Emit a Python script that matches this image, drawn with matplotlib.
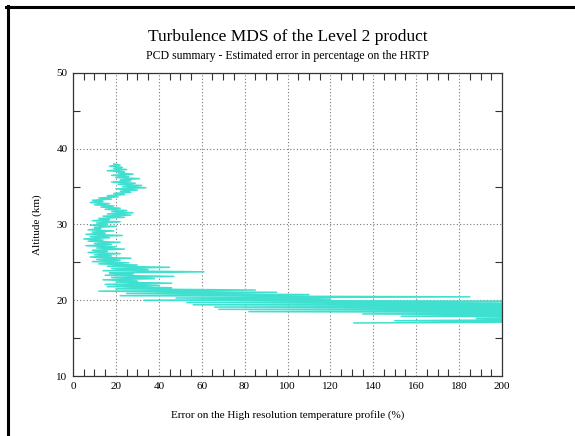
import numpy as np
import matplotlib
matplotlib.use("Agg")
import matplotlib.pyplot as plt
from matplotlib.lines import Line2D
from matplotlib.ticker import MultipleLocator

plt.rcParams['font.family'] = ['Liberation Serif', 'DejaVu Serif']

# altitude (km) and estimated error (%) of the HRTP, bottom to top
altitude = [
    17.00, 17.15, 17.30, 17.45, 17.60, 17.75, 17.90, 18.05, 18.20, 18.35,
    18.50, 18.65, 18.80, 18.95, 19.10, 19.25, 19.40, 19.55, 19.70, 19.85,
    20.00, 20.15, 20.30, 20.45, 20.60, 20.75, 20.90, 21.05, 21.20, 21.35,
    21.50, 21.65, 21.80, 21.95, 22.10, 22.25, 22.40, 22.55, 22.70, 22.85,
    23.00, 23.15, 23.30, 23.45, 23.60, 23.75, 23.90, 24.05, 24.20, 24.35,
    24.50, 24.65, 24.80, 24.95, 25.10, 25.25, 25.40, 25.55, 25.70, 25.85,
    26.00, 26.15, 26.30, 26.45, 26.60, 26.75, 26.90, 27.05, 27.20, 27.35,
    27.50, 27.65, 27.80, 27.95, 28.10, 28.25, 28.40, 28.55, 28.70, 28.85,
    29.00, 29.15, 29.30, 29.45, 29.60, 29.75, 29.90, 30.05, 30.20, 30.35,
    30.50, 30.65, 30.80, 30.95, 31.10, 31.25, 31.40, 31.55, 31.70, 31.85,
    32.00, 32.15, 32.30, 32.45, 32.60, 32.75, 32.90, 33.05, 33.20, 33.35,
    33.50, 33.65, 33.80, 33.95, 34.10, 34.25, 34.40, 34.55, 34.70, 34.85,
    35.00, 35.15, 35.30, 35.45, 35.60, 35.75, 35.90, 36.05, 36.20, 36.35,
    36.50, 36.65, 36.80, 36.95, 37.10, 37.25, 37.40, 37.55, 37.70, 37.85,
    38.00,
]
error_pct = [
    131, 240, 150, 230, 188, 260, 153, 230, 135, 280,
    82, 300, 68, 290, 66, 270, 56, 250, 53, 230,
    33, 120, 48, 185, 22, 110, 25, 95, 12, 85,
    20, 46, 16, 40, 15, 46, 20, 30, 14, 38,
    18, 47, 15, 28, 17, 61, 14, 35, 18, 45,
    16, 30, 12, 26, 9, 22, 11, 27, 8, 18,
    10, 22, 7, 16, 9, 24, 11, 20, 6, 18,
    10, 22, 7, 14, 5, 17, 8, 23, 6, 15,
    9, 19, 7, 13, 10, 20, 8, 16, 11, 22,
    9, 17, 12, 24, 14, 27, 16, 28, 18, 25,
    15, 22, 13, 19, 10, 17, 8, 14, 9, 18,
    12, 21, 16, 24, 19, 27, 22, 30, 20, 34,
    23, 32, 21, 29, 18, 27, 22, 31, 20, 26,
    18, 28, 21, 24, 16, 25, 19, 23, 17, 22,
    19,
]

fig = plt.figure(figsize=(5.75, 4.36), dpi=100)
ax = fig.add_axes([0.127, 0.1376, 0.746, 0.695])

ax.plot(error_pct, altitude, color="#40E0D0", lw=1.1)

ax.set_xlim(0, 200)
ax.set_ylim(10, 50)
ax.xaxis.set_major_locator(MultipleLocator(20))
ax.xaxis.set_minor_locator(MultipleLocator(5))
ax.yaxis.set_major_locator(MultipleLocator(10))
ax.yaxis.set_minor_locator(MultipleLocator(5))
ax.tick_params(which="major", length=0, labelsize=8, pad=4)
ax.tick_params(which="minor", direction="in", length=5, width=0.8,
               top=True, right=True, color="#333333")
ax.grid(True, which="major", linestyle=(0, (1, 2)), color="#777777", lw=0.8)
for s in ax.spines.values():
    s.set_color("#333333")
    s.set_linewidth(0.9)

ax.set_xlabel("Error on the High resolution temperature profile (%)", fontsize=8, labelpad=14)
ax.set_ylabel("Altitude (km)", fontsize=8, labelpad=10)

fig.text(0.5, 1 - 37 / 436, "Turbulence MDS of the Level 2 product",
         ha="center", va="center", fontsize=12.5)
fig.text(0.5, 1 - 56 / 436, "PCD summary - Estimated error in percentage on the HRTP",
         ha="center", va="center", fontsize=8.5)

# frame of the page
fig.add_artist(Line2D([7.5 / 575, 7.5 / 575], [0, 1 - 6 / 436], color="black", lw=2.2))
fig.add_artist(Line2D([6 / 575, 1], [1 - 7.5 / 436, 1 - 7.5 / 436], color="black", lw=2.2))

fig.savefig("out.png", dpi=100)
